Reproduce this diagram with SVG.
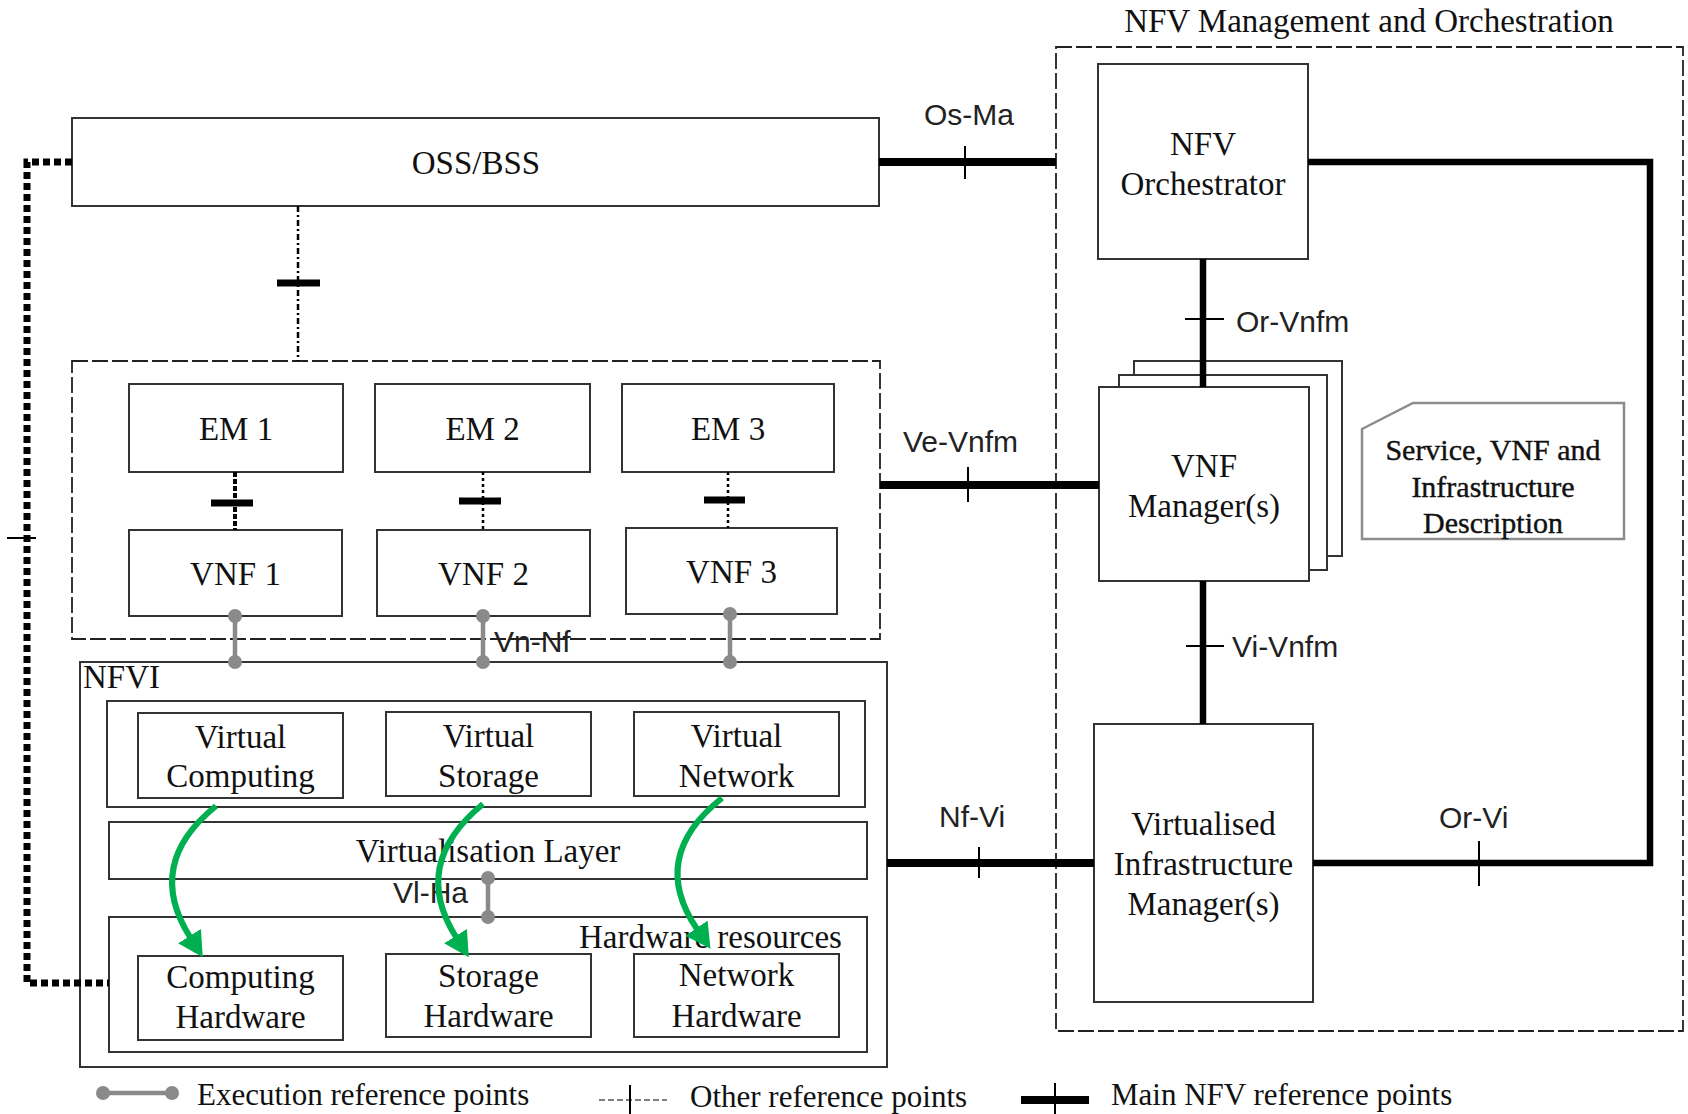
<svg xmlns="http://www.w3.org/2000/svg" width="1688" height="1114" viewBox="0 0 1688 1114">
  <defs>
    <style>
      .box{fill:#fff;stroke:#333;stroke-width:2}
      .grp{fill:none;stroke:#333;stroke-width:2}
      .dash{fill:none;stroke:#222;stroke-width:1.8;stroke-dasharray:16 4}
      .serif{font-family:"Liberation Serif","Times New Roman",serif;font-size:33px;fill:#111}
      .c{text-anchor:middle}
      .sans{font-family:"Liberation Sans",Arial,sans-serif;font-size:30px;fill:#222}
      .main{fill:none;stroke:#000;stroke-width:8}
      .main6{fill:none;stroke:#000;stroke-width:6.5}
      .tick{stroke:#000;stroke-width:2}
      .otick{stroke:#000;stroke-width:7}
      .odot{stroke:#000;stroke-width:2.5;stroke-dasharray:3 3}
      .exec{stroke:#8a8a8a;stroke-width:4.5}
      .pt{fill:#8a8a8a}
      .green{fill:none;stroke:#00b050;stroke-width:6}
    </style>
    <marker id="greenHead" markerUnits="userSpaceOnUse" markerWidth="26" markerHeight="28" refX="1" refY="13.5" orient="auto">
      <path d="M0,0 L25,13.5 L0,27 z" fill="#00b050"/>
    </marker>
  </defs>

  <rect width="1688" height="1114" fill="#fff"/>

  <!-- MANO frame and title -->
  <g id="mano">
    <rect class="dash" x="1056" y="47" width="627" height="984"/>
    <text class="serif c" x="1369" y="32">NFV Management and Orchestration</text>
  </g>

  <g id="oss-bss">
    <rect class="box" x="72" y="118" width="807" height="88"/>
    <text class="serif c" x="476" y="174">OSS/BSS</text>
  </g>

  <g id="vnf-domain">
    <rect class="dash" x="72" y="361" width="808" height="278"/>
  </g>

  <g id="em1">
    <rect class="box" x="129" y="384" width="214" height="88"/>
    <text class="serif c" x="236" y="440">EM 1</text>
  </g>
  <g id="em2">
    <rect class="box" x="375" y="384" width="215" height="88"/>
    <text class="serif c" x="482.5" y="440">EM 2</text>
  </g>
  <g id="em3">
    <rect class="box" x="622" y="384" width="212" height="88"/>
    <text class="serif c" x="728" y="440">EM 3</text>
  </g>

  <g id="vnf1">
    <rect class="box" x="129" y="530" width="213" height="86"/>
    <text class="serif c" x="235.5" y="585">VNF 1</text>
  </g>
  <g id="vnf2">
    <rect class="box" x="377" y="530" width="213" height="86"/>
    <text class="serif c" x="483.5" y="585">VNF 2</text>
  </g>
  <g id="vnf3">
    <rect class="box" x="626" y="528" width="211" height="86"/>
    <text class="serif c" x="731.5" y="583">VNF 3</text>
  </g>

  <g id="nfvi">
    <rect class="grp" x="80" y="662" width="807" height="405"/>
    <text class="serif" x="83" y="688">NFVI</text>
  </g>

  <g id="virtual-resources">
    <rect class="grp" x="107" y="701" width="758" height="106"/>
  </g>
  <g id="virtual-computing">
    <rect class="box" x="138" y="713" width="205" height="85"/>
    <text class="serif c" x="240.5" y="748">Virtual</text>
    <text class="serif c" x="240.5" y="787">Computing</text>
  </g>
  <g id="virtual-storage">
    <rect class="box" x="386" y="712" width="205" height="84"/>
    <text class="serif c" x="488.5" y="747">Virtual</text>
    <text class="serif c" x="488.5" y="787">Storage</text>
  </g>
  <g id="virtual-network">
    <rect class="box" x="634" y="712" width="205" height="84"/>
    <text class="serif c" x="736.5" y="747">Virtual</text>
    <text class="serif c" x="736.5" y="787">Network</text>
  </g>

  <g id="virtualisation-layer">
    <rect class="box" x="109" y="822" width="758" height="57"/>
    <text class="serif c" x="488" y="862">Virtualisation Layer</text>
  </g>

  <g id="hardware-resources">
    <rect class="grp" x="109" y="917" width="758" height="135"/>
    <text class="serif" x="579" y="948">Hardware resources</text>
  </g>
  <g id="computing-hardware">
    <rect class="box" x="138" y="956" width="205" height="84"/>
    <text class="serif c" x="240.5" y="988">Computing</text>
    <text class="serif c" x="240.5" y="1028">Hardware</text>
  </g>
  <g id="storage-hardware">
    <rect class="box" x="386" y="954" width="205" height="83"/>
    <text class="serif c" x="488.5" y="987">Storage</text>
    <text class="serif c" x="488.5" y="1027">Hardware</text>
  </g>
  <g id="network-hardware">
    <rect class="box" x="634" y="954" width="205" height="83"/>
    <text class="serif c" x="736.5" y="986">Network</text>
    <text class="serif c" x="736.5" y="1027">Hardware</text>
  </g>

  <g id="nfv-orchestrator">
    <rect class="box" x="1098" y="64" width="210" height="195"/>
    <text class="serif c" x="1203" y="155">NFV</text>
    <text class="serif c" x="1203" y="195">Orchestrator</text>
  </g>

  <g id="vnf-managers">
    <rect class="box" x="1134" y="361" width="208" height="195"/>
    <rect class="box" x="1119" y="375" width="208" height="195"/>
    <rect class="box" x="1099" y="387" width="210" height="194"/>
    <text class="serif c" x="1204" y="477">VNF</text>
    <text class="serif c" x="1204" y="517">Manager(s)</text>
  </g>

  <g id="vim">
    <rect class="box" x="1094" y="724" width="219" height="278"/>
    <text class="serif c" x="1203.5" y="835">Virtualised</text>
    <text class="serif c" x="1203.5" y="875">Infrastructure</text>
    <text class="serif c" x="1203.5" y="915">Manager(s)</text>
  </g>

  <g id="descriptors">
    <polygon points="1362,429 1413,403 1624,403 1624,539 1362,539" fill="#fff" stroke="#8c8c8c" stroke-width="2.5"/>
    <text class="serif c" x="1493" y="460" style="font-size:30px" stroke="#111" stroke-width="0.4">Service, VNF and</text>
    <text class="serif c" x="1493" y="497" style="font-size:30px" stroke="#111" stroke-width="0.4">Infrastructure</text>
    <text class="serif c" x="1493" y="533" style="font-size:30px" stroke="#111" stroke-width="0.4">Description</text>
  </g>

  <!-- reference points -->
  <g id="connectors">
    <!-- OSS/BSS to hardware resources -->
    <path d="M72 162 H27 V983 H109" fill="none" stroke="#000" stroke-width="7" stroke-dasharray="7 4"/>
    <line class="tick" x1="7" y1="538" x2="36" y2="538"/>

    <!-- OSS/BSS to EMs -->
    <line x1="298" y1="206" x2="298" y2="361" stroke="#000" stroke-width="2.5" stroke-dasharray="6 3 2 3"/>
    <line class="otick" x1="277" y1="283" x2="320" y2="283"/>

    <!-- EM to VNF -->
    <line x1="235" y1="472" x2="235" y2="530" stroke="#000" stroke-width="4" stroke-dasharray="5 2"/>
    <line class="otick" x1="211" y1="503" x2="253" y2="503"/>
    <line class="odot" x1="483" y1="472" x2="483" y2="530"/>
    <line class="otick" x1="459" y1="501" x2="501" y2="501" stroke-width="6"/>
    <line class="odot" x1="728" y1="472" x2="728" y2="528"/>
    <line class="otick" x1="704" y1="500" x2="745" y2="500"/>

    <!-- execution reference points -->
    <line class="exec" x1="235" y1="616" x2="235" y2="662"/>
    <circle class="pt" cx="235" cy="616" r="7"/>
    <circle class="pt" cx="235" cy="662" r="7"/>
    <line class="exec" x1="483" y1="616" x2="483" y2="662"/>
    <circle class="pt" cx="483" cy="616" r="7"/>
    <circle class="pt" cx="483" cy="662" r="7"/>
    <line class="exec" x1="730" y1="614" x2="730" y2="662"/>
    <circle class="pt" cx="730" cy="614" r="7"/>
    <circle class="pt" cx="730" cy="662" r="7"/>
    <text class="sans" x="494" y="652">Vn-Nf</text>

    <line class="exec" x1="488" y1="878" x2="488" y2="917"/>
    <circle class="pt" cx="488" cy="878" r="7"/>
    <circle class="pt" cx="488" cy="917" r="7"/>
    <text class="sans" x="393" y="903">Vl-Ha</text>

    <!-- main NFV reference points -->
    <line class="main" x1="879" y1="162" x2="1056" y2="162"/>
    <line class="tick" x1="965" y1="146" x2="965" y2="179"/>
    <text class="sans" x="924" y="125">Os-Ma</text>

    <path class="main6" d="M1308 162 H1650 V863 H1313"/>
    <line class="tick" x1="1479" y1="841" x2="1479" y2="886"/>
    <text class="sans" x="1439" y="828">Or-Vi</text>

    <line class="main6" x1="1203" y1="259" x2="1203" y2="387"/>
    <line class="tick" x1="1185" y1="319" x2="1224" y2="319"/>
    <text class="sans" x="1236" y="332">Or-Vnfm</text>

    <line class="main6" x1="1203" y1="581" x2="1203" y2="724"/>
    <line class="tick" x1="1186" y1="646" x2="1224" y2="646"/>
    <text class="sans" x="1232" y="657">Vi-Vnfm</text>

    <line class="main" x1="880" y1="485" x2="1099" y2="485"/>
    <line class="tick" x1="968" y1="467" x2="968" y2="502"/>
    <text class="sans" x="903" y="452">Ve-Vnfm</text>

    <line class="main" x1="887" y1="863" x2="1094" y2="863"/>
    <line class="tick" x1="979" y1="847" x2="979" y2="878"/>
    <text class="sans" x="939" y="827">Nf-Vi</text>

    <!-- virtual to physical mapping -->
    <path class="green" d="M216 806 Q144 864 190 937" marker-end="url(#greenHead)"/>
    <path class="green" d="M483 804 Q410 864 456 937" marker-end="url(#greenHead)"/>
    <path class="green" d="M722 798 Q648 857 697 929" marker-end="url(#greenHead)"/>
  </g>

  <!-- legend -->
  <g id="legend">
    <line class="exec" x1="103" y1="1093" x2="172" y2="1093"/>
    <circle class="pt" cx="103" cy="1093" r="7"/>
    <circle class="pt" cx="172" cy="1093" r="7"/>
    <text class="serif" x="197" y="1105" style="font-size:31px">Execution reference points</text>

    <line x1="599" y1="1100" x2="667" y2="1100" stroke="#555" stroke-width="1.5" stroke-dasharray="6 3"/>
    <line class="tick" x1="630" y1="1085" x2="630" y2="1114"/>
    <text class="serif" x="690" y="1107" style="font-size:31px">Other reference points</text>

    <line class="main" x1="1021" y1="1100" x2="1089" y2="1100"/>
    <line class="tick" x1="1055" y1="1083" x2="1055" y2="1114"/>
    <text class="serif" x="1111" y="1105" style="font-size:31px">Main NFV reference points</text>
  </g>
</svg>
